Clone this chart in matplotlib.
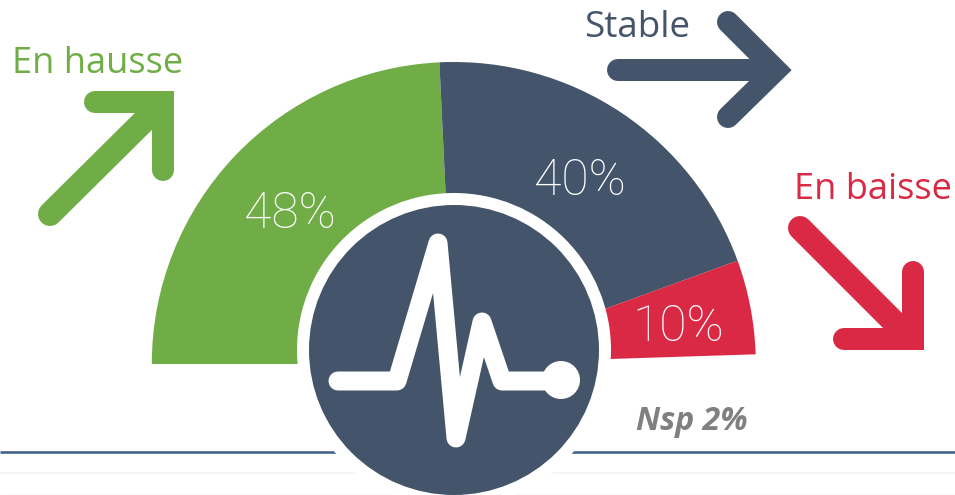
import matplotlib
matplotlib.use("Agg")
import matplotlib.pyplot as plt
from matplotlib.patches import Wedge, Circle
import numpy as np

labels = ["En hausse", "Stable", "En baisse"]
values = [48, 40, 10]
nsp = 2
colors = ["#70AD47", "#44546A", "#DA2944"]

PX = 0.72  # one pixel in points at dpi 100
DEG_PER_PCT = 1.818

fig = plt.figure(figsize=(9.55, 4.95), dpi=100, facecolor="white")
ax = fig.add_axes([0, 0, 1, 1])
ax.set_xlim(0, 955)
ax.set_ylim(495, 0)
ax.axis("off")

# rules at the bottom, the white ring cuts them
ax.plot([0, 955], [452, 452], color="#44618C", lw=2.6 * PX, zorder=1, solid_capstyle="butt")
ax.plot([0, 955], [473, 473], color="#F4F4F4", lw=1.6 * PX, zorder=1, solid_capstyle="butt")
ax.plot([0, 955], [494, 494], color="#FAFAFA", lw=1.2 * PX, zorder=1, solid_capstyle="butt")

# gauge
start = 180
for val, col in zip(values, colors):
    end = start + val * DEG_PER_PCT
    ax.add_patch(Wedge((453.8, 364), 302, start, end, fc=col, ec="none", zorder=2))
    start = end

ax.add_patch(Circle((454, 350), 157, fc="white", ec="none", zorder=3))
ax.add_patch(Circle((454, 350), 145, fc=colors[1], ec="none", zorder=4))

# pulse icon
pulse_x = [338, 397, 438, 456, 482, 502, 560]
pulse_y = [381, 381, 243, 438, 322, 381, 381]
ax.plot(pulse_x, pulse_y, color="white", lw=19 * PX, zorder=5,
        solid_capstyle="round", solid_joinstyle="round")
ax.add_patch(Circle((561, 380), 19, fc="white", ec="none", zorder=5))


def arrow(shaft, head, color, shaft_w=22):
    ax.plot(*zip(*shaft), color=color, lw=shaft_w * PX, solid_capstyle="round", zorder=2)
    ax.plot(*zip(*head), color=color, lw=22 * PX, solid_capstyle="round",
            solid_joinstyle="miter", zorder=2)


arrow([(50, 214), (160, 105)], [(95, 102), (163, 102), (163, 170)], colors[0], 24)
arrow([(618, 70), (770, 70)], [(728, 22), (776, 70), (728, 117)], colors[1])
arrow([(800, 228), (908, 336)], [(844, 339), (913, 339), (913, 272)], colors[2], 24)

# texts
ax.text(98, 64, labels[0], color=colors[0], fontsize=26, family="Open Sans", ha="center", va="center", zorder=6)
ax.text(637, 28, labels[1], color=colors[1], fontsize=26.5, family="Open Sans", ha="center", va="center", zorder=6)
ax.text(873, 190, labels[2], color=colors[2], fontsize=26, family="Open Sans", ha="center", va="center", zorder=6)

pct_pos = [(290, 214), (580, 181), (678, 327)]
for val, (px, py) in zip(values, pct_pos):
    ax.text(px, py, f"{val}%", color="white", fontsize=36, family="Roboto", fontweight="light",
            ha="center", va="center", zorder=6)

ax.text(692, 422, f"Nsp {nsp}%", color="#808080", fontsize=23, family="Open Sans",
        fontweight="bold", fontstyle="italic", ha="center", va="center", zorder=6)

fig.savefig("out.png", dpi=100)
